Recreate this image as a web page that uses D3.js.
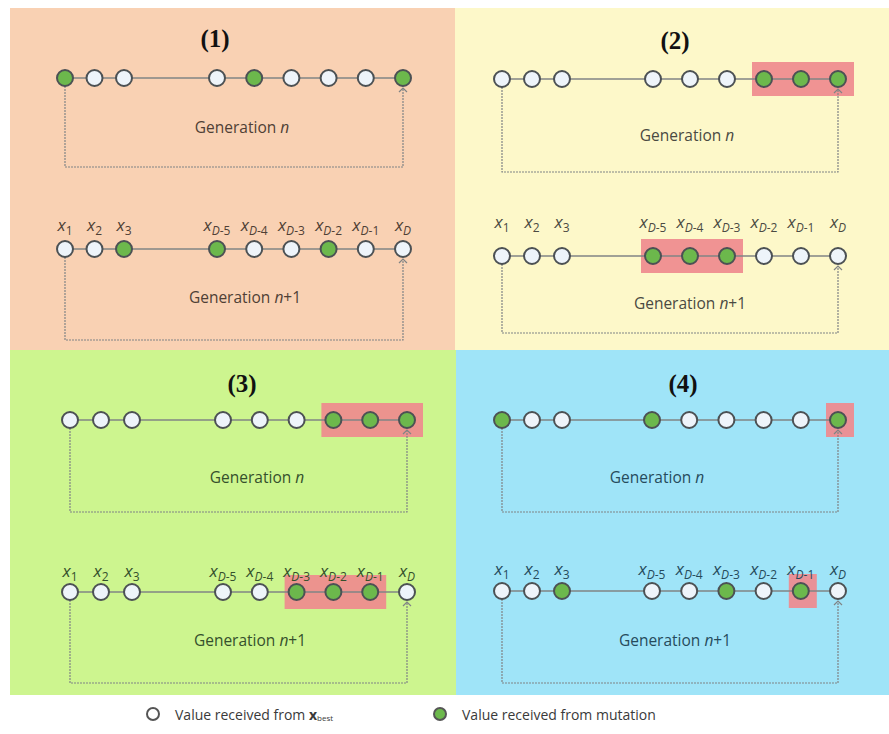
<!DOCTYPE html>
<html><head><meta charset="utf-8">
<script src="https://cdn.jsdelivr.net/npm/d3@7"></script>
<style>body{margin:0;background:#fff}svg{display:block}</style>
</head><body>
<svg id="c" width="889" height="734"></svg>
<script>
// ---- data ----
const genes = ["1","2","3","D-5","D-4","D-3","D-2","D-1","D"];
const panelTitles = ["(1)","(2)","(3)","(4)"];
const rowLabels = ["Generation ", "Generation "];
const rowSuffix = ["", "+1"];
// 1 = value from mutation (green), 0 = value from x_best (white)
const genN  = [[1,0,0,0,1,0,0,0,1],[0,0,0,0,0,0,1,1,1],[0,0,0,0,0,0,1,1,1],[1,0,0,1,0,0,0,0,1]];
const genN1 = [[0,0,1,1,0,0,1,0,0],[0,0,0,1,1,1,0,0,0],[0,0,0,0,0,1,1,1,0],[0,0,1,0,0,1,0,1,0]];
const highlightN  = [null,[6,8],[6,8],[8,8]];
const highlightN1 = [null,[3,5],[5,7],[7,7]];
const legendItems = [{v:0,t:"Value received from "},{v:1,t:"Value received from mutation"}];

// ---- layout ----
const panels = [
 {x:10,y:8,w:445,h:342,bg:"#f9d1b3",tc:"#4f3f35",x0:65,s1:29.5,xg:217,s2:37.2,r1:78,r2:249,lb:231,b1:167,b2:340,tx:215,ty:38,g1:[242,127],g2:[245,297]},
 {x:455,y:8,w:434,h:342,bg:"#fdf8c9",tc:"#4a4a42",x0:502,s1:30,xg:653,s2:37,r1:79,r2:256,lb:228,b1:172,b2:333,tx:675,ty:40,g1:[687,135],g2:[690,303]},
 {x:10,y:350,w:446,h:345,bg:"#cdf58f",tc:"#35502c",x0:70,s1:31,xg:223,s2:36.8,r1:420,r2:592,lb:577,b1:512,b2:683,tx:242,ty:383,g1:[257,477],g2:[250,640]},
 {x:456,y:350,w:433,h:345,bg:"#9fe4f8",tc:"#264b5c",x0:502,s1:30,xg:652,s2:37.2,r1:420,r2:591,lb:575,b1:512,b2:683,tx:683,ty:383,g1:[657,477],g2:[675,640]}
];
const R = 8;
const svg = d3.select("#c");
const GREEN = "#6cb84c", WHITE = "#eef4fa", STROKE = "#4c5154", LINE = "#808485", RED = "#ef8a8e";

panels.forEach((p, pi) => {
  const g = svg.append("g");
  g.append("rect").attr("x",p.x).attr("y",p.y).attr("width",p.w).attr("height",p.h).attr("fill",p.bg);
  const sa = d3.scaleLinear().domain([0,2]).range([p.x0, p.x0 + 2*p.s1]);
  const sb = d3.scaleLinear().domain([3,8]).range([p.xg, p.xg + 5*p.s2]);
  const X = i => i < 3 ? sa(i) : sb(i);

  g.append("text").attr("x",p.tx).attr("y",p.ty).attr("text-anchor","middle").attr("dominant-baseline","central")
   .attr("font-family","Liberation Serif, serif").attr("font-weight","bold").attr("font-size",25).attr("fill","#111")
   .text(panelTitles[pi]);

  const rows = [
    {y:p.r1, vals:genN[pi], hl:highlightN[pi], bot:p.b1, gl:p.g1, k:0},
    {y:p.r2, vals:genN1[pi], hl:highlightN1[pi], bot:p.b2, gl:p.g2, k:1}
  ];
  rows.forEach(row => {
    if (row.hl) {
      const [a,b] = row.hl;
      g.append("rect").attr("x",X(a)-12).attr("y",row.y-17).attr("width",X(b)-X(a)+28).attr("height",34).attr("fill",RED).attr("opacity",0.92);
    }
    const xl = X(0), xr = X(8);
    g.append("path").attr("d",`M${xl},${row.y+R} V${row.bot} H${xr} V${row.y+R+2}`)
      .attr("fill","none").attr("stroke",LINE).attr("stroke-width",1.2).attr("stroke-dasharray","2,1");
    g.append("path").attr("d",`M${xr-4},${row.y+R+6} L${xr},${row.y+R+2} L${xr+4},${row.y+R+6}`)
      .attr("fill","none").attr("stroke",LINE).attr("stroke-width",1.2);
    g.append("line").attr("x1",xl).attr("x2",xr).attr("y1",row.y).attr("y2",row.y).attr("stroke",LINE).attr("stroke-width",1.6);
    g.selectAll(null).data(row.vals).join("circle")
      .attr("cx",(d,i)=>X(i)).attr("cy",row.y).attr("r",R)
      .attr("fill",d=>d?GREEN:WHITE).attr("stroke",STROKE).attr("stroke-width",2);
    const t = g.append("text").attr("x",row.gl[0]).attr("y",row.gl[1]).attr("text-anchor","middle").attr("dominant-baseline","central")
      .attr("font-family","Open Sans, sans-serif").attr("font-size",15.5).attr("fill",p.tc);
    t.append("tspan").text(rowLabels[row.k]);
    t.append("tspan").attr("font-style","italic").text("n");
    t.append("tspan").text(rowSuffix[row.k]);
  });
  genes.forEach((gn,i) => {
    const t = g.append("text").attr("x",X(i)).attr("y",p.lb).attr("text-anchor","middle")
      .attr("font-family","Open Sans, sans-serif").attr("fill",p.tc);
    t.append("tspan").attr("font-size",17).attr("font-style","italic").text("x");
    const sub = t.append("tspan").attr("font-size",12).attr("dy",4);
    if (gn.startsWith("D")) {
      sub.append("tspan").attr("font-style","italic").text("D");
      sub.append("tspan").text(gn.slice(1));
    } else sub.text(gn);
  });
});

// legend
const lg = svg.append("g");
const lx = [153, 440];
legendItems.forEach((d,i) => {
  lg.append("circle").attr("cx",lx[i]).attr("cy",714).attr("r",6).attr("fill",d.v?GREEN:"#fff").attr("stroke","#555").attr("stroke-width",2);
  const t = lg.append("text").attr("x",lx[i]+22).attr("y",714).attr("dominant-baseline","central")
    .attr("font-family","Open Sans, sans-serif").attr("font-size",14).attr("fill","#3a3a3a").text(d.t);
  if (!d.v) {
    t.append("tspan").attr("font-weight","bold").text("x");
    t.append("tspan").attr("font-size",8).attr("dy",3).text("best");
  }
});
</script>
</body></html>
